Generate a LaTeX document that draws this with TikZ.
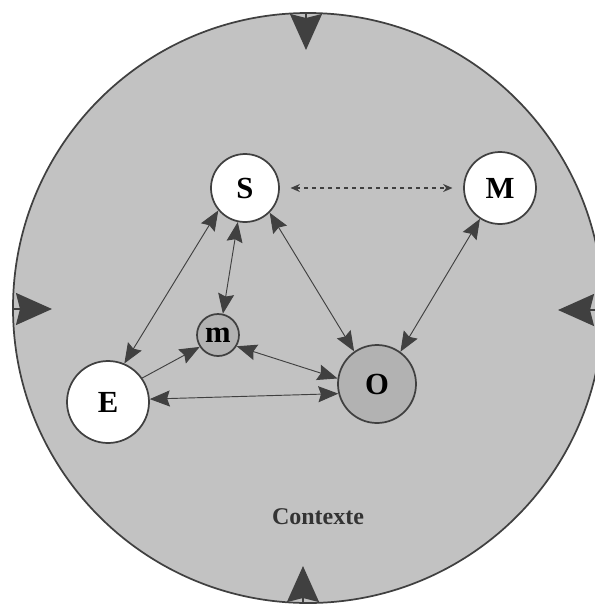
\documentclass[tikz,border=0pt]{standalone}
\usepackage{fontspec}
\setmainfont{Liberation Serif}
\usepackage{tikz}
\usetikzlibrary{positioning,calc,arrows.meta}

\begin{document}
\begin{tikzpicture}[
  x=0.75pt, y=-0.75pt,
  agent/.style={circle, draw=black!75, line width=1.3pt, fill=white, inner sep=0pt, font=\fontsize{23}{26}\selectfont\bfseries},
  inner/.style={agent, fill=gray!60},
  link/.style={{Stealth[length=15pt,width=12pt,inset=2pt]}-{Stealth[length=15pt,width=12pt,inset=2pt]}, draw=black!75, line width=0.7pt},
  oneway/.style={-{Stealth[length=15pt,width=12pt,inset=2pt]}, draw=black!75, line width=0.7pt},
  push/.style={-{Stealth[length=27pt,width=24pt,inset=3pt]}, draw=black!75, line width=1.3pt, fill=black!75},
  note/.style={font=\fontsize{18}{22}\selectfont\bfseries, text=black!80}
]
\useasboundingbox (0,0) rectangle (595,608);

% context
\draw[black!75, line width=1.3pt, fill=gray!48] (308,308) circle [radius=295];
\node[note] (ctx) at (318,517) {Contexte};

% outer pressure
\coordinate (topin) at (306,13);   \coordinate (toptip) at (306,50);
\coordinate (botin) at (303,603);  \coordinate (bottip) at (303,566);
\coordinate (lftin) at (13,309);   \coordinate (lfttip) at (52,309);
\coordinate (rgtin) at (600,310);  \coordinate (rgttip) at (558,310);
\draw[push] (topin) -- (toptip);
\draw[push] (botin) -- (bottip);
\draw[push] (lftin) -- (lfttip);
\draw[push] (rgtin) -- (rgttip);

% agents
\node[agent, minimum size=51pt] (S) at (245,188) {S};
\node[agent, minimum size=54pt] (M) at (500,188) {M};
\node[inner, minimum size=31.5pt] (m) at (218,335) {m};
\node[inner, minimum size=58.5pt] (O) at (377,384) {O};
\node[agent, minimum size=61.5pt] (E) at (108,402) {E};

% relations
\draw[link, dashed, line width=0.9pt, {Stealth[length=7pt,width=6pt]}-{Stealth[length=7pt,width=6pt]}, shorten <=8pt, shorten >=8pt] (S.east) -- (M.west);
\draw[link] (S.220) -- (E.67);
\draw[link] (S.258) -- (m.77);
\draw[link] (S.-45) -- (O.125);
\draw[link] (M.237) -- (O.54);
\draw[oneway] (E.35) -- (m.213);
\draw[link] (m.-31) -- (O.172);
\draw[link] (E.4) -- (O.194);

\end{tikzpicture}
\end{document}
